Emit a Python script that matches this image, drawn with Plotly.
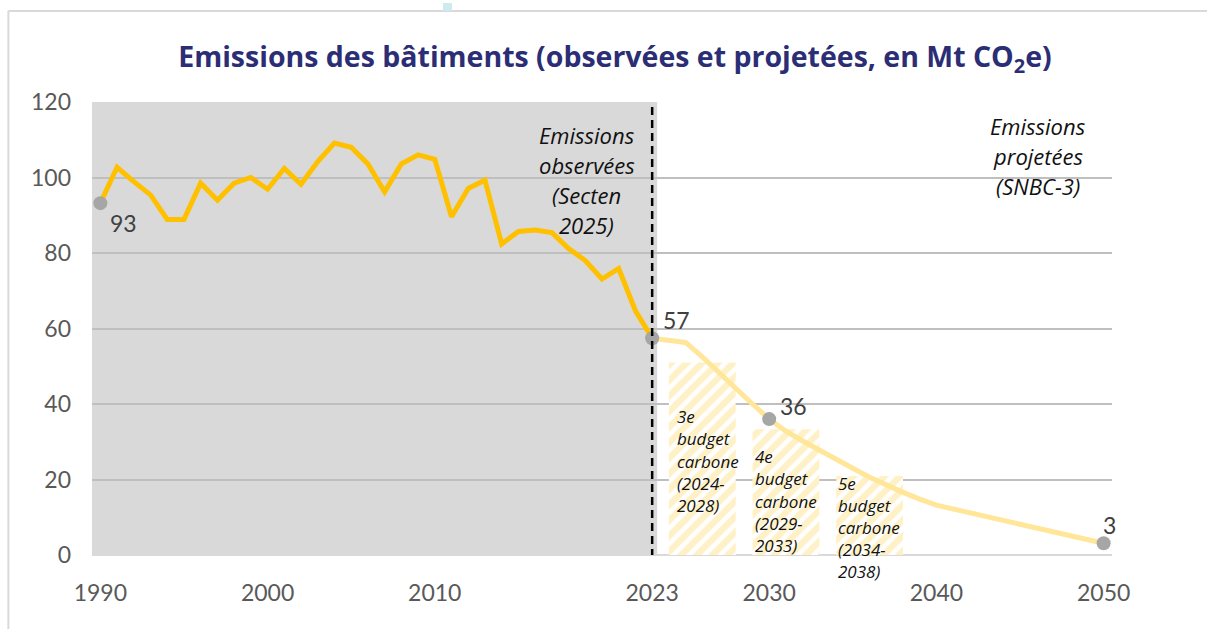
import plotly.graph_objects as go

# Observed emissions of the building sector (Mt CO2e), Secten 2025
years_obs = list(range(1990, 2024))
emis_obs = [93.2, 102.7, 98.9, 95.4, 88.9, 88.9, 98.5, 94.0, 98.5, 100.0,
            96.9, 102.4, 98.2, 104.2, 109.1, 108.0, 103.6, 96.2, 103.6, 106.0,
            104.8, 89.6, 97.1, 99.3, 82.4, 85.7, 86.1, 85.4, 81.2, 78.0,
            73.1, 75.9, 64.7, 57.4]

# Projected emissions (SNBC-3)
years_proj = [2023, 2024, 2025, 2026, 2027, 2028, 2029, 2030, 2031, 2032,
              2033, 2034, 2035, 2036, 2037, 2038, 2039, 2040, 2050]
emis_proj = [57.4, 56.8, 56.3, 52.5, 48.2, 44.0, 40.0, 36.0, 32.8, 30.2,
             27.7, 25.3, 23.0, 20.6, 18.5, 16.6, 14.8, 13.2, 3.1]

# Carbon budgets (annual average level)
budget_names = ["3e", "4e", "5e"]
budget_start = [2024, 2029, 2034]
budget_end = [2028, 2033, 2038]
budget_level = [51.0, 33.3, 20.9]

# Highlighted years
highlight_years = [1990, 2023, 2030, 2050]

x_ticks = [1990, 2000, 2010, 2023, 2030, 2040, 2050]

Y_MAX = 120
FONT = "Lato"
TEXT_FONT = "Open Sans"
TICK_COLOR = "#595959"
LABEL_COLOR = "#404040"
TITLE_COLOR = "#2B2E74"

all_vals = dict(zip(years_obs, emis_obs))
all_vals.update(dict(zip(years_proj, emis_proj)))
highlight_vals = [all_vals[y] for y in highlight_years]

fig = go.Figure()

# Hatched carbon-budget bars
fig.add_trace(go.Bar(
    x=[(s + e) / 2 for s, e in zip(budget_start, budget_end)],
    y=budget_level,
    width=[e - s for s, e in zip(budget_start, budget_end)],
    marker=dict(color="white", line=dict(width=0),
                pattern=dict(shape="/", fgcolor="#FFE38F", bgcolor="white",
                             size=11, solidity=0.6)),
    hoverinfo="skip",
))

# Projected line
fig.add_trace(go.Scatter(
    x=years_proj, y=emis_proj, mode="lines",
    line=dict(color="#FFE699", width=5), hoverinfo="skip",
))

# Observed line
fig.add_trace(go.Scatter(
    x=years_obs, y=emis_obs, mode="lines",
    line=dict(color="#FFC000", width=5), hoverinfo="skip",
))

# Highlight dots
fig.add_trace(go.Scatter(
    x=highlight_years, y=highlight_vals, mode="markers",
    marker=dict(color="#A6A6A6", size=14), hoverinfo="skip",
))

annotations = []

# Value labels for the highlighted points
label_shift = {1990: (23, -20), 2023: (24, 18), 2030: (24, 13), 2050: (6, 18)}
for yr, v in zip(highlight_years, highlight_vals):
    dx, dy = label_shift[yr]
    annotations.append(dict(
        x=yr, y=v, text=f"{round(v)}", showarrow=False,
        xshift=dx, yshift=dy, xanchor="center", yanchor="middle",
        font=dict(family=FONT, size=23, color=LABEL_COLOR),
    ))


def stacked(lines, x, y_first, step, size, xanchor):
    # one annotation per line, positioned in paper units so lines may fall below the axis
    for i, line in enumerate(lines):
        annotations.append(dict(
            x=x, xref="x", y=(y_first - i * step) / Y_MAX, yref="paper",
            text=f"<i>{line}</i>", showarrow=False,
            xanchor=xanchor, yanchor="middle",
            font=dict(family=TEXT_FONT, size=size, color="#111111"),
        ))


stacked(["Emissions", "observées", "(Secten", "2025)"], 2019.1, 111.3, 7.95, 22, "center")
stacked(["Emissions", "projetées", "(SNBC-3)"], 2046.1, 113.6, 7.95, 22, "center")

budget_text_pos = [(2024.35, 36.6), (2029.05, 26.0), (2034.0, 19.0)]
for name, s, e, (bx, by) in zip(budget_names, budget_start, budget_end, budget_text_pos):
    stacked([name, "budget", "carbone", f"({s}-", f"{e})"], bx, by, 5.85, 17, "left")

shapes = [
    # Observed period background
    dict(type="rect", xref="x", yref="y", x0=1989.5, x1=2023.3, y0=0, y1=Y_MAX,
         fillcolor="#D9D9D9", line=dict(width=0), layer="below"),
    # Separation between observed and projected
    dict(type="line", xref="x", yref="y", x0=2023, x1=2023, y0=-0.5, y1=Y_MAX,
         line=dict(color="black", width=2.5, dash="8px,5px")),
    # Outer frame
    dict(type="line", xref="paper", yref="paper", x0=-0.082, x1=1.2, y0=1.2009, y1=1.2009,
         line=dict(color="#D9D9D9", width=2)),
    dict(type="line", xref="paper", yref="paper", x0=-0.082, x1=-0.082, y0=1.2009, y1=-0.3,
         line=dict(color="#D9D9D9", width=2)),
    dict(type="rect", xref="paper", yref="paper", x0=0.3441, x1=0.3529, y0=1.2009, y1=1.2185,
         fillcolor="#CDEBEE", line=dict(width=0)),
]

fig.update_layout(
    width=1207, height=629,
    margin=dict(l=92, r=95, t=102, b=74),
    paper_bgcolor="white", plot_bgcolor="white",
    showlegend=False, barmode="overlay",
    title=dict(
        text="<b>Emissions des bâtiments (observées et projetées, en Mt CO<sub>2</sub>e)</b>",
        x=0.5095, xanchor="center", y=0.909, yanchor="middle",
        font=dict(family=TEXT_FONT, size=28.5, color=TITLE_COLOR),
    ),
    xaxis=dict(range=[1989.5, 2050.5], tickvals=x_ticks, showgrid=False,
               zeroline=False, showline=False, ticks="",
               tickfont=dict(family=FONT, size=23, color=TICK_COLOR),
               ticklabelstandoff=22),
    yaxis=dict(range=[0, Y_MAX], dtick=20, showgrid=True, gridcolor="#BFBFBF",
               gridwidth=1.5, zeroline=True, zerolinecolor="#D9D9D9", zerolinewidth=2,
               showline=False, ticks="",
               tickfont=dict(family=FONT, size=23, color=TICK_COLOR),
               ticklabelstandoff=20),
    annotations=annotations,
    shapes=shapes,
)

fig.write_html("out.html")
